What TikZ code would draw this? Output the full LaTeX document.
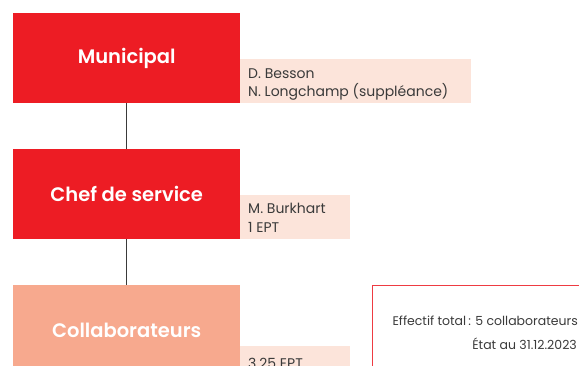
\documentclass[tikz,border=0pt]{standalone}
\usepackage{fontspec}
\setmainfont{Poppins}
\newfontfamily\labelfont{Poppins}[UprightFont=* SemiBold]
\definecolor{boxred}{HTML}{ED1C24}
\definecolor{boxsalmon}{HTML}{F7A98E}
\definecolor{infobg}{HTML}{FCE4DA}
\definecolor{txt}{HTML}{3A3A3A}
\definecolor{framered}{HTML}{EE3B42}
\tikzset{
  unitbox/.style={rectangle, minimum width=227pt, minimum height=90pt, inner sep=0pt, font=\fontsize{19.5}{21}\labelfont, text=white},
  infobox/.style={rectangle, fill=infobg, inner sep=0pt, anchor=north west},
  infotext/.style={anchor=base west, inner sep=0pt, text=txt, font=\fontsize{14}{18.5}\selectfont, align=left},
  link/.style={draw=txt, line width=0.8pt},
  totaltext/.style={anchor=base east, inner sep=0pt, text=txt, font=\fontsize{12.5}{14}\selectfont}
}
\begin{document}
\begin{tikzpicture}[x=1pt,y=-1pt]
\useasboundingbox (0,0) rectangle (579,366);
\clip (0,0) rectangle (579,366);
% info backgrounds
\node[infobox, minimum width=231pt, minimum height=44pt] (info1) at (240,59) {};
\node[infobox, minimum width=110pt, minimum height=44pt] (info2) at (240,195) {};
\node[infobox, minimum width=110pt, minimum height=44pt] (info3) at (240,346) {};
% main boxes
\node[unitbox, fill=boxred, anchor=north west] (mun) at (13,13) {Municipal};
\node[unitbox, fill=boxred, anchor=north west] (chef) at (13,149) {Chef de service};
\node[unitbox, fill=boxsalmon, anchor=north west] (coll) at (13,285) {Collaborateurs};
% connectors
\draw[link] (mun.south) -- (chef.north);
\draw[link] (chef.south) -- (coll.north);
% info texts
\node[infotext] (t1a) at (248,79) {D. Besson};
\node[infotext] (t1b) at (248,97) {N. Longchamp (suppléance)};
\node[infotext] (t2a) at (248,214) {M. Burkhart};
\node[infotext] (t2b) at (248,233) {1 EPT};
\node[infotext] (t3) at (248,369) {3.25 EPT};
% total frame
\node[rectangle, draw=framered, color=framered, line width=1pt, anchor=north west, minimum width=260pt, minimum height=120pt] (frame) at (371.5,285.5) {};
\node[totaltext] (tot1) at (578,326) {Effectif total\,: 5 collaborateurs};
\node[totaltext] (tot2) at (577,350) {État au 31.12.2023};
\end{tikzpicture}
\end{document}
